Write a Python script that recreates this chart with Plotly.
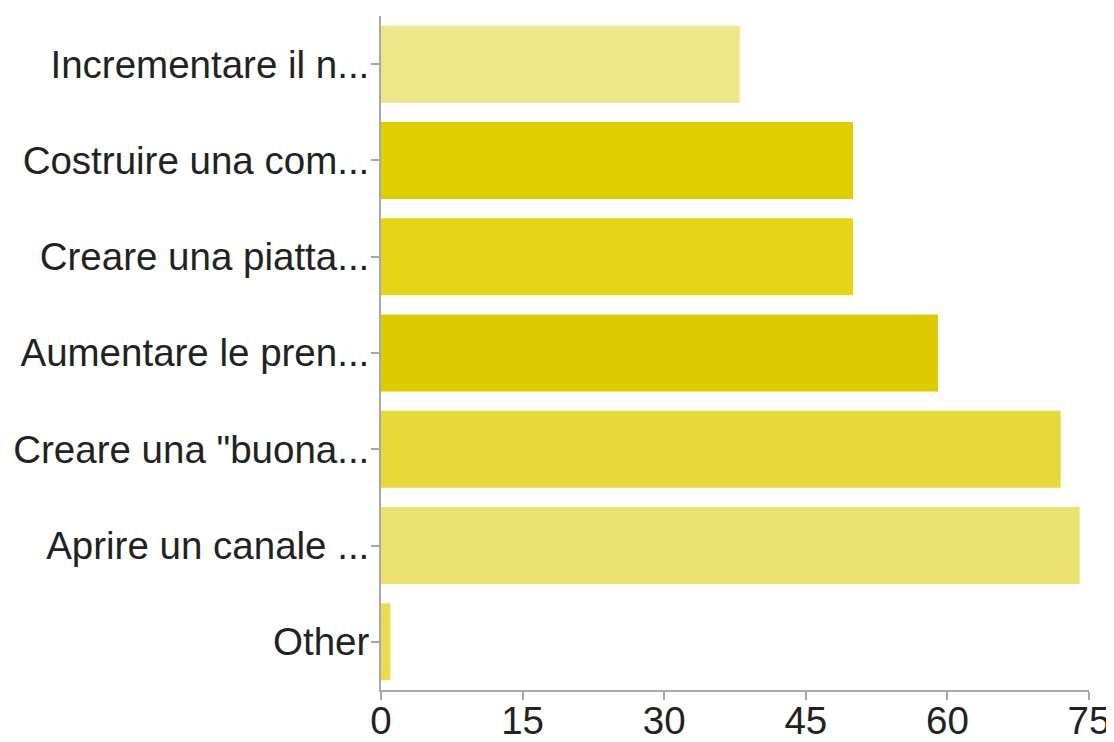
import plotly.graph_objects as go

categories = [
    "Incrementare il n...",
    "Costruire una com...",
    "Creare una piatta...",
    "Aumentare le pren...",
    "Creare una \"buona...",
    "Aprire un canale ...",
    "Other",
]
values = [38, 50, 50, 59, 72, 74, 1]
bar_colors = ["#EEE48A", "#DFCF00", "#E5D516", "#DCCB00", "#E6D93C", "#ECE272", "#EADB50"]
x_ticks = [0, 15, 30, 45, 60, 75]

fig = go.Figure(
    go.Bar(
        y=categories,
        x=values,
        orientation="h",
        marker=dict(color=bar_colors, line=dict(width=0)),
        width=0.8,
    )
)

# page body has an 8px default margin, so the figure is sized/offset to compensate
fig.update_layout(
    width=1106,
    height=734,
    margin=dict(l=373, r=25, t=8, b=52, autoexpand=False),
    paper_bgcolor="white",
    plot_bgcolor="white",
    showlegend=False,
    font=dict(family="Liberation Sans, Arial, Helvetica, sans-serif", size=38.5, color="#222222"),
)

fig.update_xaxes(
    range=[0, 75],
    tickvals=x_ticks,
    ticktext=[str(v) for v in x_ticks],
    showgrid=False,
    zeroline=False,
    showline=True,
    linecolor="#a8a8a8",
    linewidth=2,
    ticks="outside",
    ticklen=8,
    tickwidth=1.5,
    tickcolor="#a8a8a8",
    tickfont=dict(size=38.5, color="#222222"),
    ticklabelstandoff=-12,
    automargin=False,
    fixedrange=True,
)

fig.update_yaxes(
    categoryorder="array",
    categoryarray=categories,
    autorange="reversed",
    showgrid=False,
    zeroline=False,
    showline=True,
    linecolor="#a8a8a8",
    linewidth=2,
    ticks="outside",
    ticklen=8,
    tickwidth=1.5,
    tickcolor="#a8a8a8",
    tickfont=dict(size=38.5, color="#222222"),
    ticklabelstandoff=-6,
    automargin=False,
    fixedrange=True,
)

fig.write_html("out.html")
